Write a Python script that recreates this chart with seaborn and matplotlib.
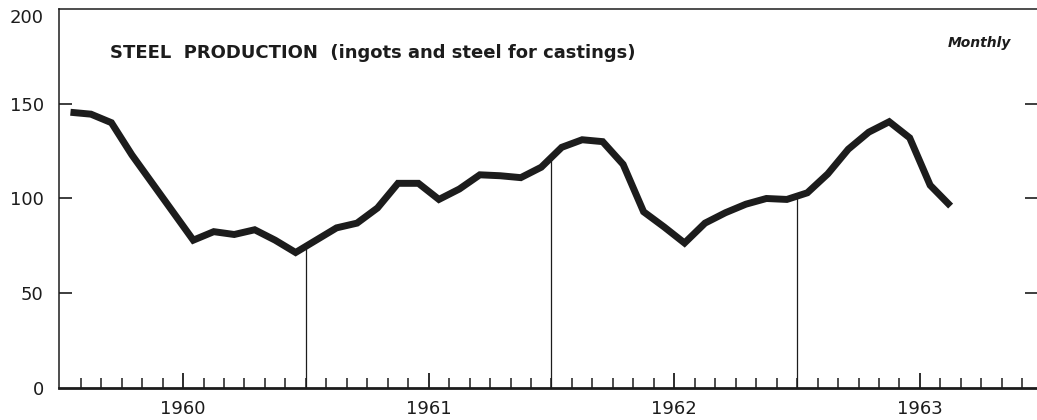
import numpy as np
import pandas as pd
import matplotlib.pyplot as plt
import seaborn as sns

# ---- data (monthly, Jul 1959 - Feb 1963) ----
months = pd.period_range("1959-07", "1963-02", freq="M").strftime("%Y-%m").tolist()
production = [145.5, 144.5, 140, 123, 108, 93,
              78, 82.5, 81, 83.5, 78, 71.5, 78, 84.5, 87, 95, 108, 108,
              99.5, 105, 112.5, 112, 111, 116.5, 127, 131, 130, 118, 93, 85,
              76.5, 87, 92.5, 97, 100, 99.5, 103, 113, 126, 135, 140.5, 132,
              107, 96]
years = [1960, 1961, 1962, 1963]
y_ticks = [0, 50, 100, 150, 200]
mid_year_lines = ["1960-07", "1961-07", "1962-07"]


def month_pos(period, mid=True):
    # months counted from Jan 1960
    p = pd.Period(period, freq="M")
    return (p.year - 1960) * 12 + p.month - 1 + (0.5 if mid else 0)


df = pd.DataFrame({"month": months, "production": production})
df["x"] = [month_pos(m) for m in df["month"]]

sns.set_style("ticks")
plt.rcParams["font.family"] = ["DejaVu Sans"]

fig = plt.figure(figsize=(10.37, 4.2), dpi=100)
ax = fig.add_axes([0.0569, 0.0762, 0.9431, 0.9024])

ink = "#1c1c1c"
sns.lineplot(data=df, x="x", y="production", ax=ax, color=ink, linewidth=5,
             solid_joinstyle="miter", solid_capstyle="butt")

# thin verticals at mid-year, up to the curve
for m in mid_year_lines:
    xv = month_pos(m, mid=False)
    top = np.interp(xv, df["x"], df["production"])
    ax.plot([xv, xv], [0, top], color=ink, linewidth=0.9)

ax.set_xlim(-6.06, 41.72)
ax.set_ylim(0, 200)

# y axis
ax.set_yticks(y_ticks)
ax.set_yticklabels([str(v) for v in y_ticks], fontsize=13, color=ink)
ax.tick_params(axis="y", direction="in", length=9, width=1.2, pad=11,
               left=True, right=True, colors=ink)
ax.get_yticklabels()[-1].set_verticalalignment("top")
for t in (ax.yaxis.get_major_ticks()[0], ax.yaxis.get_major_ticks()[-1]):
    t.tick1line.set_visible(False)
    t.tick2line.set_visible(False)

# x axis: years with long ticks, months with short ones
year_pos = [month_pos(f"{y}-01", mid=False) for y in years]
ax.set_xticks(year_pos)
ax.set_xticklabels([str(y) for y in years], fontsize=13, color=ink)
ax.set_xticks([k for k in range(-5, 42) if k not in year_pos], minor=True)
ax.tick_params(axis="x", which="major", direction="in", length=11, width=1.3,
               pad=9, colors=ink)
ax.tick_params(axis="x", which="minor", direction="in", length=7, width=1.1,
               colors=ink)

for side in ["left", "top"]:
    ax.spines[side].set_linewidth(1.1)
    ax.spines[side].set_color(ink)
ax.spines["bottom"].set_linewidth(2)
ax.spines["bottom"].set_color(ink)
ax.spines["right"].set_visible(False)

ax.set_xlabel("")
ax.set_ylabel("")

ax.text(0.052, 0.884, "STEEL  PRODUCTION  (ingots and steel for castings)",
        transform=ax.transAxes, fontsize=13, fontweight="bold", color=ink,
        va="center", ha="left")
ax.text(0.974, 0.91, "Monthly", transform=ax.transAxes, fontsize=10,
        fontweight="bold", fontstyle="italic", color=ink, va="center", ha="right")

fig.savefig("out.png", dpi=100)
